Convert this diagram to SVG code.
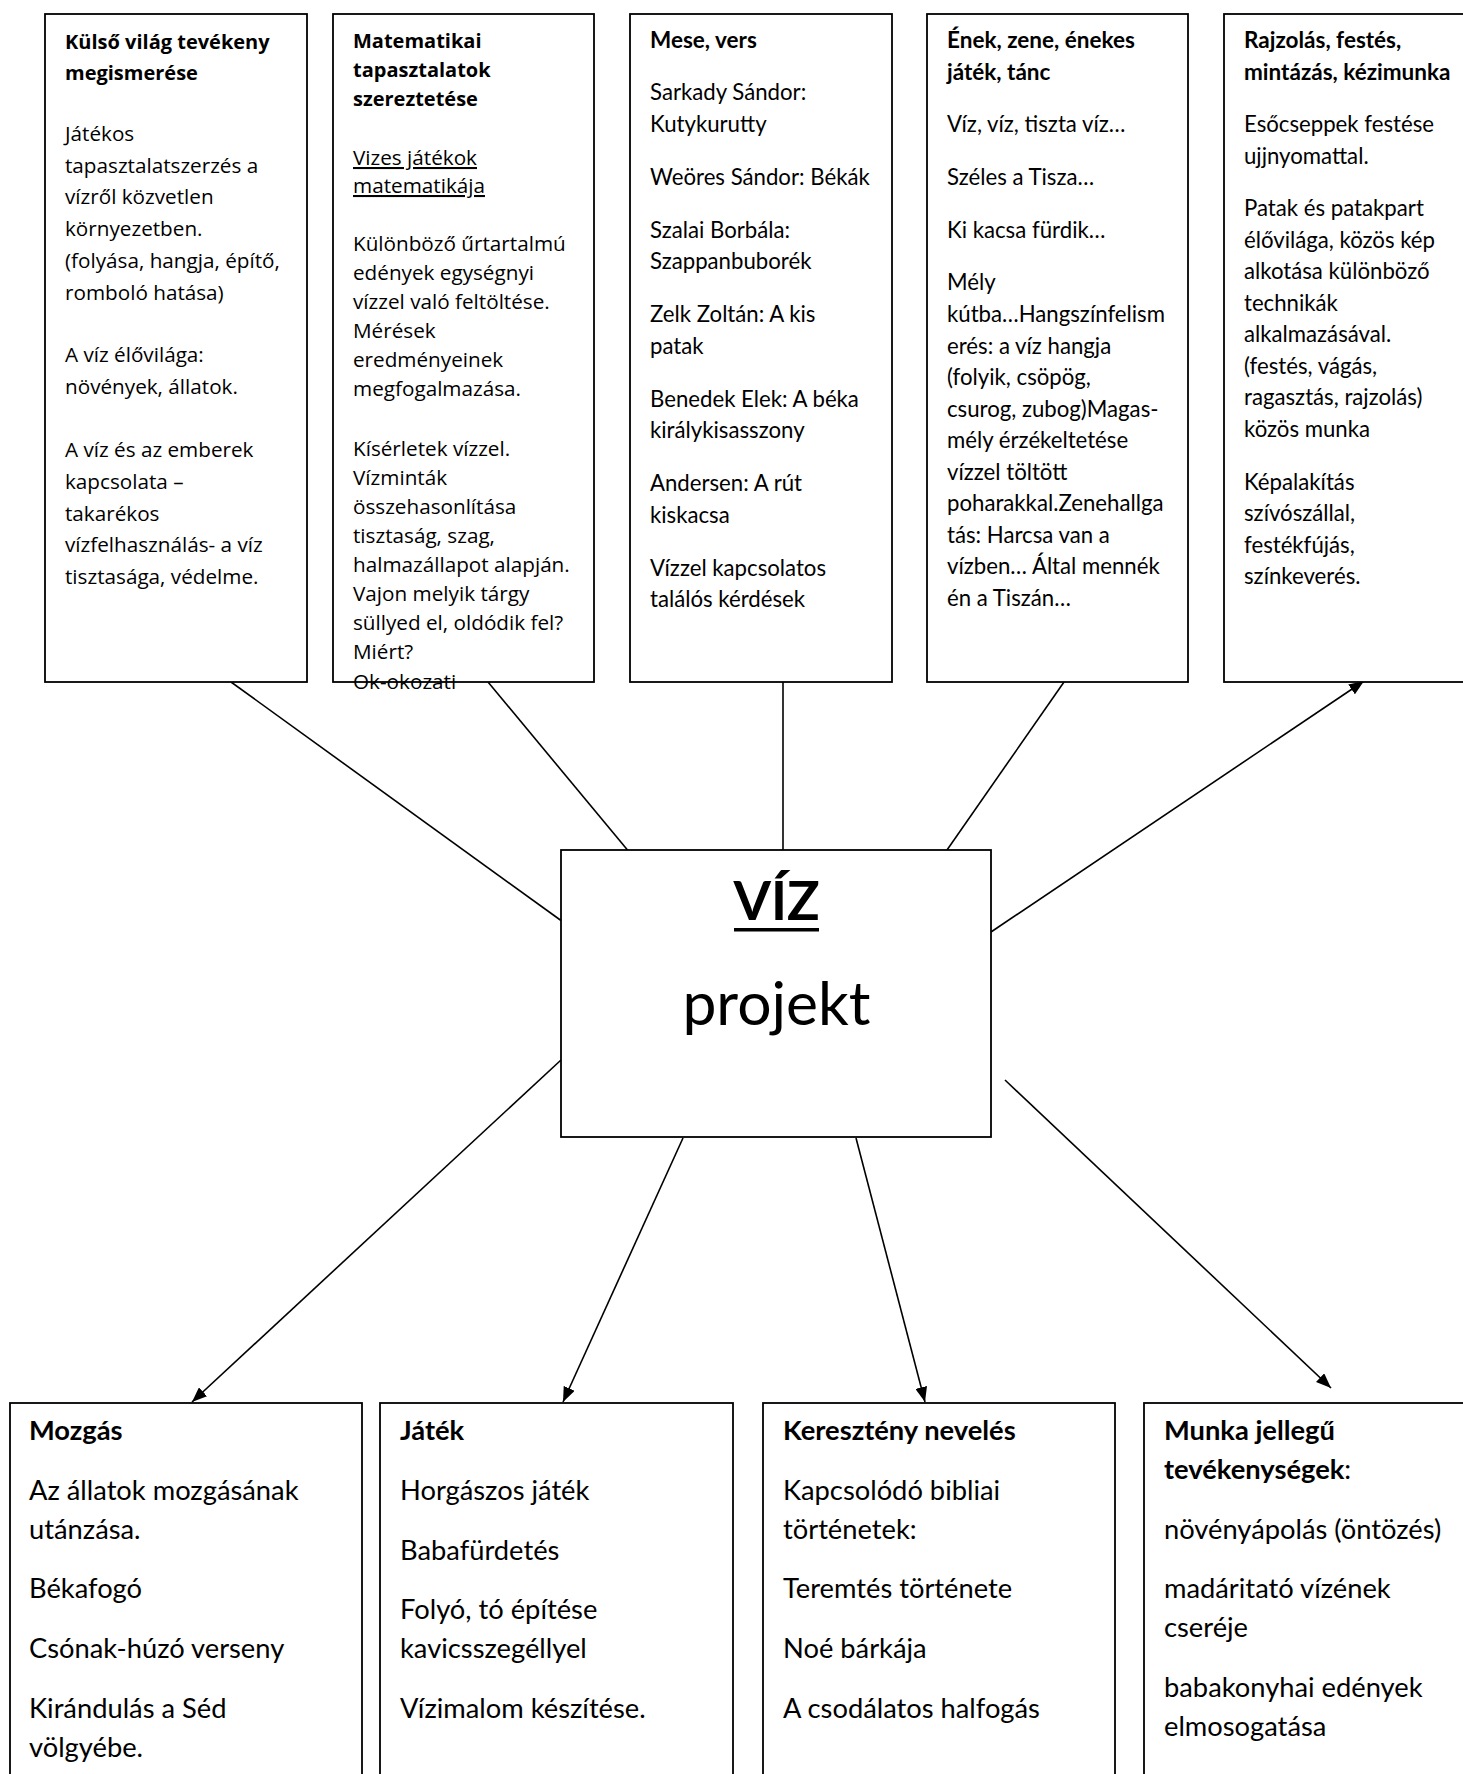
<svg xmlns="http://www.w3.org/2000/svg" width="1463" height="1774" viewBox="0 0 1463 1774">
<defs>
<style>
.box{fill:#fff;stroke:#000;stroke-width:1.8}
.wide{font-family:"Open Sans","Noto Sans",sans-serif;font-size:20.7px;fill:#000}
.wide .b{font-size:20px}
.cal{font-family:Lato,"Open Sans",sans-serif;font-size:22.2px;fill:#000}
.cal .b{font-size:22.5px}
.big{font-family:Lato,"Open Sans",sans-serif;font-size:27.3px;fill:#000}
.b{font-weight:bold}
.u{text-decoration:underline}
.con{stroke:#000;stroke-width:1.6;fill:none}
.arr{marker-end:url(#ah)}
</style>
<marker id="ah" markerUnits="userSpaceOnUse" markerWidth="16" markerHeight="12" refX="15" refY="6" orient="auto">
<path d="M0,0 L15,6 L0,12 z" fill="#000"/>
</marker>
</defs>
<rect width="1463" height="1774" fill="#fff"/>

<g id="connectors">
<line class="con" x1="231" y1="682" x2="561" y2="920.5"/>
<line class="con" x1="488" y1="682" x2="630" y2="853"/>
<line class="con" x1="783" y1="682" x2="783" y2="850"/>
<line class="con" x1="1064" y1="682" x2="947" y2="850"/>
<line class="con arr" x1="991" y1="932" x2="1364" y2="681"/>
<line class="con arr" x1="561" y1="1060" x2="192" y2="1402"/>
<line class="con arr" x1="683" y1="1138" x2="563" y2="1402"/>
<line class="con arr" x1="856" y1="1138" x2="925" y2="1402"/>
<line class="con arr" x1="1005" y1="1080" x2="1331" y2="1388"/>
</g>

<g id="kulso-vilag">
<rect class="box" x="45" y="14" width="262" height="668"/>
<text class="wide">
<tspan class="b" x="65" y="48.5">Külső világ tevékeny</tspan>
<tspan class="b" x="65" y="80">megismerése</tspan>
<tspan x="65" y="141">Játékos</tspan>
<tspan x="65" y="172.7">tapasztalatszerzés a</tspan>
<tspan x="65" y="204.4">vízről közvetlen</tspan>
<tspan x="65" y="236">környezetben.</tspan>
<tspan x="65" y="267.8">(folyása, hangja, építő,</tspan>
<tspan x="65" y="299.5">romboló hatása)</tspan>
<tspan x="65" y="362">A víz élővilága:</tspan>
<tspan x="65" y="394">növények, állatok.</tspan>
<tspan x="65" y="457">A víz és az emberek</tspan>
<tspan x="65" y="489">kapcsolata –</tspan>
<tspan x="65" y="521">takarékos</tspan>
<tspan x="65" y="552">vízfelhasználás- a víz</tspan>
<tspan x="65" y="584">tisztasága, védelme.</tspan>
</text>
</g>

<g id="matematikai">
<rect class="box" x="333" y="14" width="261" height="668"/>
<text class="wide">
<tspan class="b" x="353" y="48">Matematikai</tspan>
<tspan class="b" x="353" y="77">tapasztalatok</tspan>
<tspan class="b" x="353" y="106">szereztetése</tspan>
<tspan class="u" x="353" y="165">Vizes játékok</tspan>
<tspan class="u" x="353" y="193">matematikája</tspan>
<tspan x="353" y="251">Különböző űrtartalmú</tspan>
<tspan x="353" y="280">edények egységnyi</tspan>
<tspan x="353" y="309">vízzel való feltöltése.</tspan>
<tspan x="353" y="338">Mérések</tspan>
<tspan x="353" y="367">eredményeinek</tspan>
<tspan x="353" y="396">megfogalmazása.</tspan>
<tspan x="353" y="456">Kísérletek vízzel.</tspan>
<tspan x="353" y="485">Vízminták</tspan>
<tspan x="353" y="514">összehasonlítása</tspan>
<tspan x="353" y="543">tisztaság, szag,</tspan>
<tspan x="353" y="572">halmazállapot alapján.</tspan>
<tspan x="353" y="601">Vajon melyik tárgy</tspan>
<tspan x="353" y="630">süllyed el, oldódik fel?</tspan>
<tspan x="353" y="659">Miért?</tspan>
<tspan x="353" y="689">Ok-okozati</tspan>
</text>
</g>

<g id="mese-vers">
<rect class="box" x="630" y="14" width="262" height="668"/>
<text class="cal">
<tspan class="b" x="650" y="48">Mese, vers</tspan>
<tspan x="650" y="100">Sarkady Sándor:</tspan>
<tspan x="650" y="131.5">Kutykurutty</tspan>
<tspan x="650" y="184.5">Weöres Sándor: Békák</tspan>
<tspan x="650" y="237.5">Szalai Borbála:</tspan>
<tspan x="650" y="269">Szappanbuborék</tspan>
<tspan x="650" y="322">Zelk Zoltán: A kis</tspan>
<tspan x="650" y="353.5">patak</tspan>
<tspan x="650" y="406.5">Benedek Elek: A béka</tspan>
<tspan x="650" y="438">királykisasszony</tspan>
<tspan x="650" y="491">Andersen: A rút</tspan>
<tspan x="650" y="522.5">kiskacsa</tspan>
<tspan x="650" y="575.5">Vízzel kapcsolatos</tspan>
<tspan x="650" y="607">találós kérdések</tspan>
</text>
</g>

<g id="enek-zene">
<rect class="box" x="927" y="14" width="261" height="668"/>
<text class="cal">
<tspan class="b" x="947" y="48">Ének, zene, énekes</tspan>
<tspan class="b" x="947" y="79.5">játék, tánc</tspan>
<tspan x="947" y="132">Víz, víz, tiszta víz…</tspan>
<tspan x="947" y="184.5">Széles a Tisza…</tspan>
<tspan x="947" y="237.5">Ki kacsa fürdik…</tspan>
<tspan x="947" y="290">Mély</tspan>
<tspan x="947" y="322">kútba…Hangszínfelism</tspan>
<tspan x="947" y="353.5">erés: a víz hangja</tspan>
<tspan x="947" y="385">(folyik, csöpög,</tspan>
<tspan x="947" y="416.5">csurog, zubog)Magas-</tspan>
<tspan x="947" y="448">mély érzékeltetése</tspan>
<tspan x="947" y="479.5">vízzel töltött</tspan>
<tspan x="947" y="511">poharakkal.Zenehallga</tspan>
<tspan x="947" y="542.5">tás: Harcsa van a</tspan>
<tspan x="947" y="574">vízben… Által mennék</tspan>
<tspan x="947" y="605.5">én a Tiszán…</tspan>
</text>
</g>

<g id="rajzolas">
<rect class="box" x="1224" y="14" width="250" height="668"/>
<text class="cal">
<tspan class="b" x="1244" y="48">Rajzolás, festés,</tspan>
<tspan class="b" x="1244" y="79.5">mintázás, kézimunka</tspan>
<tspan x="1244" y="132">Esőcseppek festése</tspan>
<tspan x="1244" y="163.5">ujjnyomattal.</tspan>
<tspan x="1244" y="216">Patak és patakpart</tspan>
<tspan x="1244" y="247.5">élővilága, közös kép</tspan>
<tspan x="1244" y="279">alkotása különböző</tspan>
<tspan x="1244" y="310.5">technikák</tspan>
<tspan x="1244" y="342">alkalmazásával.</tspan>
<tspan x="1244" y="373.5">(festés, vágás,</tspan>
<tspan x="1244" y="405">ragasztás, rajzolás)</tspan>
<tspan x="1244" y="436.5">közös munka</tspan>
<tspan x="1244" y="489.5">Képalakítás</tspan>
<tspan x="1244" y="521">szívószállal,</tspan>
<tspan x="1244" y="552.5">festékfújás,</tspan>
<tspan x="1244" y="584">színkeverés.</tspan>
</text>
</g>

<g id="viz-projekt">
<rect class="box" x="561" y="850" width="430" height="287"/>
<text x="776.5" y="920" text-anchor="middle" font-family="Lato,'Open Sans',sans-serif" font-size="54" font-weight="bold" fill="#000">VÍZ</text>
<rect x="734" y="928" width="85" height="3.5" fill="#000"/>
<text x="776.5" y="1025" text-anchor="middle" font-family="Lato,'Open Sans',sans-serif" font-size="60.6" fill="#000">projekt</text>
</g>

<g id="mozgas">
<rect class="box" x="10" y="1403" width="352" height="400"/>
<text class="big">
<tspan class="b" x="29" y="1440">Mozgás</tspan>
<tspan x="29" y="1500">Az állatok mozgásának</tspan>
<tspan x="29" y="1539">utánzása.</tspan>
<tspan x="29" y="1598">Békafogó</tspan>
<tspan x="29" y="1658">Csónak-húzó verseny</tspan>
<tspan x="29" y="1718">Kirándulás a Séd</tspan>
<tspan x="29" y="1757">völgyébe.</tspan>
</text>
</g>

<g id="jatek">
<rect class="box" x="380" y="1403" width="353" height="400"/>
<text class="big">
<tspan class="b" x="400" y="1440">Játék</tspan>
<tspan x="400" y="1500">Horgászos játék</tspan>
<tspan x="400" y="1560">Babafürdetés</tspan>
<tspan x="400" y="1619">Folyó, tó építése</tspan>
<tspan x="400" y="1658">kavicsszegéllyel</tspan>
<tspan x="400" y="1718">Vízimalom készítése.</tspan>
</text>
</g>

<g id="kereszteny">
<rect class="box" x="763" y="1403" width="352" height="400"/>
<text class="big">
<tspan class="b" x="783" y="1440">Keresztény nevelés</tspan>
<tspan x="783" y="1500">Kapcsolódó bibliai</tspan>
<tspan x="783" y="1539">történetek:</tspan>
<tspan x="783" y="1598">Teremtés története</tspan>
<tspan x="783" y="1658">Noé bárkája</tspan>
<tspan x="783" y="1718">A csodálatos halfogás</tspan>
</text>
</g>

<g id="munka">
<rect class="box" x="1144" y="1403" width="340" height="400"/>
<text class="big">
<tspan class="b" x="1164" y="1440">Munka jellegű</tspan>
<tspan class="b" x="1164" y="1479">tevékenységek</tspan><tspan>:</tspan>
<tspan x="1164" y="1539">növényápolás (öntözés)</tspan>
<tspan x="1164" y="1598">madáritató vízének</tspan>
<tspan x="1164" y="1637">cseréje</tspan>
<tspan x="1164" y="1697">babakonyhai edények</tspan>
<tspan x="1164" y="1736">elmosogatása</tspan>
</text>
</g>
</svg>
